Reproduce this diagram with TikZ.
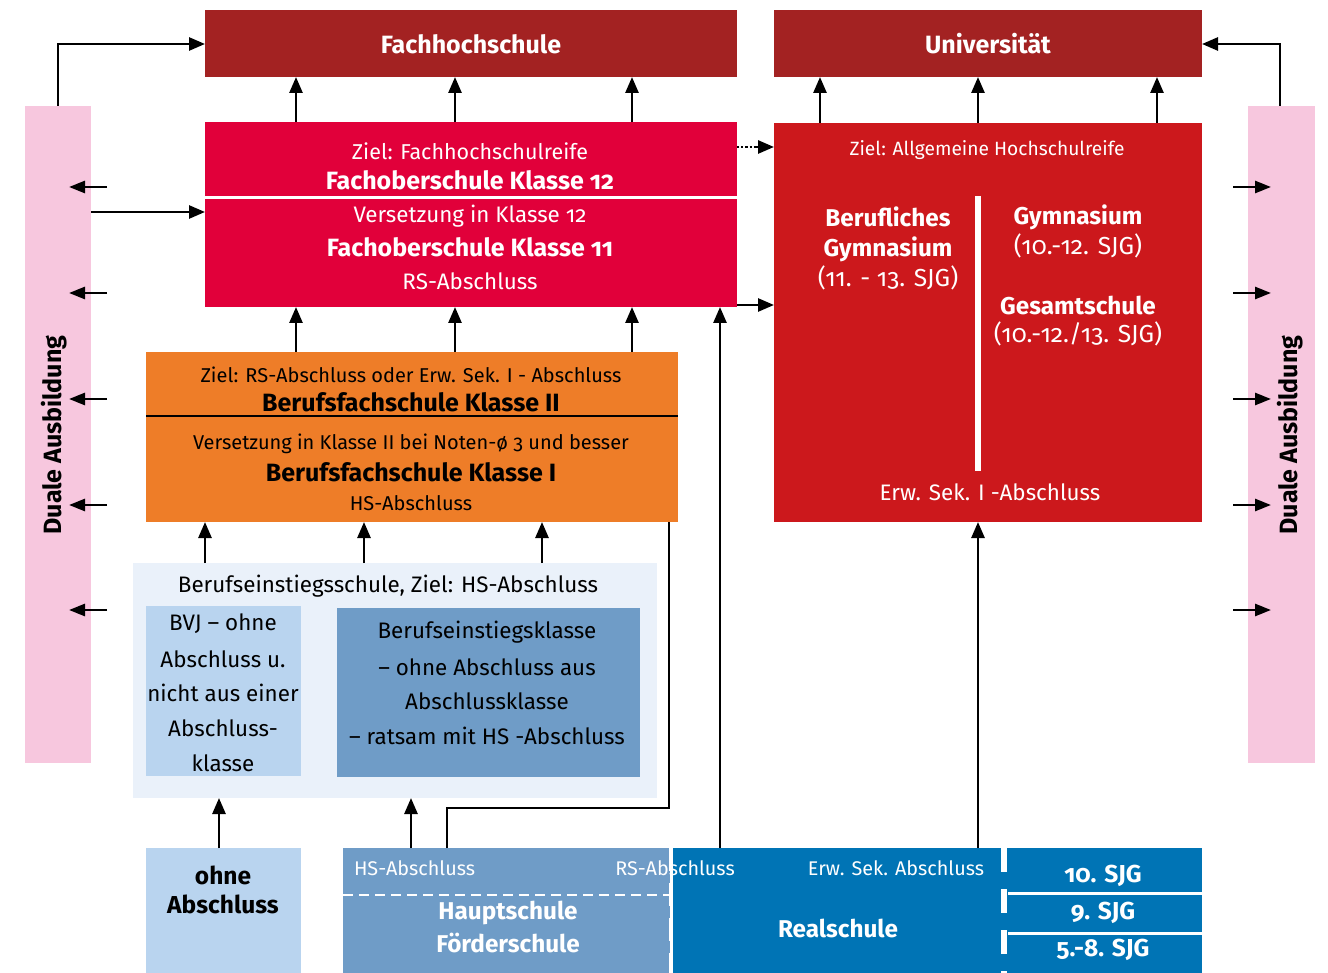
\documentclass[tikz,border=0pt]{standalone}
\usepackage{fontspec}
\setmainfont{Fira Sans}[Numbers=OldStyle]
\usetikzlibrary{arrows.meta}
\definecolor{fhred}{HTML}{A32222}
\definecolor{fosred}{HTML}{E1003A}
\definecolor{gymred}{HTML}{CC181C}
\definecolor{bfsorange}{HTML}{EE7D28}
\definecolor{dualpink}{HTML}{F7C7DE}
\definecolor{besbg}{HTML}{EAF1FA}
\definecolor{lightblue}{HTML}{B9D4EF}
\definecolor{midblue}{HTML}{6F9CC7}
\definecolor{realblue}{HTML}{0074B5}
\newcommand{\fs}[1]{\fontsize{#1}{#1}\selectfont}
\begin{document}
\begin{tikzpicture}[x=1pt,y=-1pt,
  box/.style={inner sep=0pt, outer sep=0pt, anchor=north west, draw=none},
  arr/.style={line width=2.7pt, -{Triangle[length=16pt,width=13pt]}},
  sarr/.style={line width=2.7pt, -{Triangle[length=16pt,width=12pt]}},
  ln/.style={line width=2.7pt},
  txt/.style={inner sep=0pt, outer sep=0pt, align=center},
  wt/.style={txt, text=white},
  bk/.style={txt, text=black},
  big/.style={font=\fs{25}\bfseries},
  bigb/.style={font=\fs{24.3}\bfseries},
  sjg/.style={font=\fs{24.5}\bfseries},
  reg/.style={font=\fs{22.4}},
  fz/.style={font=\fs{21.5}},
  par/.style={font=\fs{24.6}},
  org/.style={font=\fs{20}},
  gz/.style={font=\fs{19.2}},
  lbl/.style={font=\fs{19.8}},
]
\useasboundingbox (0,0) rectangle (1328,973);
\fill[white] (0,0) rectangle (1328,973);

% ---------- boxes ----------
\node[box, fill=fhred, minimum width=532pt, minimum height=67pt] (fh) at (205,10) {};
\node[box, fill=fhred, minimum width=428pt, minimum height=67pt] (uni) at (774,10) {};
\node[box, fill=fosred, minimum width=532pt, minimum height=185pt] (fos) at (205,122) {};
\node[box, fill=gymred, minimum width=428pt, minimum height=399pt] (gym) at (774,123) {};
\node[box, fill=bfsorange, minimum width=532pt, minimum height=170pt] (bfs) at (146,352) {};
\node[box, fill=besbg, minimum width=524pt, minimum height=235pt] (bes) at (133,563) {};
\node[box, fill=lightblue, minimum width=155pt, minimum height=170pt] (bvj) at (146,606) {};
\node[box, fill=midblue, minimum width=303pt, minimum height=169pt] (bek) at (337,608) {};
\node[box, fill=lightblue, minimum width=155pt, minimum height=125pt] (oa) at (146,848) {};
\node[box, fill=midblue, minimum width=327pt, minimum height=125pt] (hs) at (343,848) {};
\node[box, fill=realblue, minimum width=529pt, minimum height=125pt] (rs) at (673,848) {};
\node[box, fill=dualpink, minimum width=66pt, minimum height=657pt] (dl) at (25,106) {};
\node[box, fill=dualpink, minimum width=67pt, minimum height=657pt] (dr) at (1248,106) {};

% dividers
\draw[white, line width=3pt] (fos.west |- 0,198) -- (fos.east |- 0,198);
\draw[black, line width=2pt] (bfs.west |- 0,416) -- (bfs.east |- 0,416);
\draw[white, line width=6pt] (978,196) -- (978,471);
\draw[white, line width=2.5pt, dash pattern=on 10pt off 6pt] (hs.west |- 0,895) -- (hs.east |- 0,895);
\draw[white, line width=4pt, dash pattern=on 23pt off 12pt] (671,848) -- (671,973);
\draw[white, line width=6pt, dash pattern=on 24pt off 17pt] (1004,848) -- (1004,973);
\draw[white, line width=3pt] (1008,893) -- (rs.east |- 0,893);
\draw[white, line width=3pt] (1008,933) -- (rs.east |- 0,933);

% ---------- texts ----------
\node[wt, big] (fhT) at (471,44) {Fachhochschule};
\node[wt, big] (uniT) at (988,44) {Universität};

\node[wt, fz] (fos1) at (470,151) {Ziel: Fachhochschulreife};
\node[wt, big] (fos2) at (470,180) {Fachoberschule Klasse 12};
\node[wt, reg] (fos3) at (470,216) {Versetzung in Klasse 12};
\node[wt, big] (fos4) at (470,247) {Fachoberschule Klasse 11};
\node[wt, reg] (fos5) at (470,281) {RS-Abschluss};

\node[wt, gz] (gym0) at (987,150) {Ziel: Allgemeine Hochschulreife};
\node[wt, bigb] (bg1) at (888,217) {Berufliches};
\node[wt, bigb] (bg2) at (888,249) {Gymnasium};
\node[wt, par] (bg3) at (888,278) {(11. - 13. SJG)};
\node[wt, bigb] (gy1) at (1078,217) {Gymnasium};
\node[wt, par] (gy2) at (1078,246) {(10.-12. SJG)};
\node[wt, bigb] (gs1) at (1078,305) {Gesamtschule};
\node[wt, par] (gs2) at (1078,334) {(10.-12./13. SJG)};
\node[wt, reg] (gymE) at (990,492) {Erw. Sek. I -Abschluss};

\node[bk, org] (bf1) at (411,375) {Ziel: RS-Abschluss oder Erw. Sek. I - Abschluss};
\node[bk, big] (bf2) at (411,402) {Berufsfachschule Klasse II};
\node[bk, org] (bf3) at (411,444) {Versetzung in Klasse II bei Noten-ø 3 und besser};
\node[bk, big] (bf4) at (411,472) {Berufsfachschule Klasse I};
\node[bk, org] (bf5) at (411,503) {HS-Abschluss};

\node[bk, reg] (besT) at (388,586) {Berufseinstiegsschule, Ziel: HS-Abschluss};
\node[bk, reg] (bvj1) at (223,624) {BVJ – ohne};
\node[bk, reg] (bvj2) at (223,659) {Abschluss u.};
\node[bk, reg] (bvj3) at (223,693) {nicht aus einer};
\node[bk, reg] (bvj4) at (223,728) {Abschluss-};
\node[bk, reg] (bvj5) at (223,763) {klasse};
\node[bk, reg] (bek1) at (487,632) {Berufseinstiegsklasse};
\node[bk, reg] (bek2) at (487,667) {– ohne Abschluss aus};
\node[bk, reg] (bek3) at (487,701) {Abschlussklasse};
\node[bk, reg] (bek4) at (487,736) {– ratsam mit HS -Abschluss};

\node[bk, sjg] (oa1) at (223,875) {ohne};
\node[bk, sjg] (oa2) at (223,904) {Abschluss};

\node[wt, lbl, anchor=west] (hsA) at (354,868) {HS-Abschluss};
\node[wt, lbl] (rsA) at (675,868) {RS-Abschluss};
\node[wt, lbl] (esA) at (896,868) {Erw. Sek. Abschluss};
\node[wt, bigb] (hs1) at (508,913) {Hauptschule};
\node[wt, bigb] (hs2) at (508,943) {Förderschule};
\node[wt, bigb] (rsT) at (838,928) {Realschule};
\node[wt, sjg] (sj1) at (1103,876) {10. SJG};
\node[wt, sjg] (sj2) at (1103,913) {9. SJG};
\node[wt, sjg] (sj3) at (1103,950) {5.-8. SJG};

\node[bk, big, rotate=90] (dlT) at (54,435) {Duale Ausbildung};
\node[bk, big, rotate=90] (drT) at (1290,435) {Duale Ausbildung};

% ---------- connectors ----------
\foreach \x in {296,455,632} {
  \draw[arr] (\x,0 |- fos.north) -- (\x,0 |- fh.south);
  \draw[arr] (\x,0 |- bfs.north) -- (\x,0 |- fos.south);
}
\foreach \x in {820,978,1157}
  \draw[arr] (\x,0 |- gym.north) -- (\x,0 |- uni.south);
\foreach \x in {205,364,542}
  \draw[arr] (\x,0 |- bes.north) -- (\x,0 |- bfs.south);
\draw[arr] (219,0 |- oa.north) -- (219,0 |- bes.south);
\draw[arr] (411,0 |- hs.north) -- (411,0 |- bes.south);
\draw[ln] (447,0 |- hs.north) -- (447,808) -- (669,808) -- (669,0 |- bfs.south);
\draw[arr] (720,0 |- rs.north) -- (720,0 |- fos.south);
\draw[arr] (978,0 |- rs.north) -- (978,0 |- gym.south);
\draw[arr] (fos.east |- 0,305) -- (gym.west |- 0,305);
\draw[line width=2.2pt, dotted] (fos.east |- 0,147) -- (756,147);
\draw[arr] (756,147) -- (gym.west |- 0,147);

\draw[arr] (58,0 |- dl.north) -- (58,44) -- (fh.west |- 0,44);
\draw[arr] (1280,0 |- dr.north) -- (1280,44) -- (uni.east |- 0,44);
\draw[arr] (dl.east |- 0,212) -- (fos.west |- 0,212);
\foreach \y in {187,293,399,505,610} {
  \draw[sarr] (107,\y) -- (69,\y);
  \draw[sarr] (1233,\y) -- (1271,\y);
}
\end{tikzpicture}
\end{document}
